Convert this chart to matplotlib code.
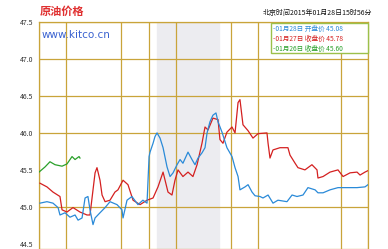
import matplotlib.pyplot as plt

plt.rcParams['font.family'] = ['Noto Sans CJK SC', 'DejaVu Sans']

# Data to plot (x = hours into the session, y = price)
blue_h = [0.07, 0.58, 1.02, 1.39, 1.53, 1.90, 2.26, 2.63, 2.85, 3.14, 3.36, 3.57, 3.72,
          3.94, 4.09, 4.45, 4.82, 5.18, 5.69, 6.05, 6.13, 6.42, 6.78, 7.22, 7.58, 7.88,
          8.03, 8.10, 8.32, 8.46, 8.61, 8.83, 9.05, 9.34, 9.56, 9.78, 10.07, 10.29, 10.50,
          10.87, 11.16, 11.38, 11.60, 11.89, 12.11, 12.26, 12.47, 12.69, 12.91, 13.06,
          13.35, 13.71, 14.08, 14.30, 14.52, 14.66, 15.03, 15.25, 15.54, 15.76, 16.12,
          16.34, 16.71, 17.07, 17.43, 18.09, 18.46, 18.82, 19.26, 19.62, 20.14, 20.35,
          20.72, 21.23, 21.81, 22.47, 23.20, 23.78, 24.00]
blue_v = [45.05, 45.07, 45.05, 44.99, 44.89, 44.92, 44.86, 44.89, 44.82, 44.85, 45.12,
          45.14, 44.96, 44.76, 44.85, 44.92, 44.99, 45.07, 45.03, 44.96, 44.85, 45.09,
          45.14, 45.03, 45.09, 45.05, 45.68, 45.74, 45.86, 45.95, 46.00, 45.93, 45.80,
          45.54, 45.41, 45.46, 45.57, 45.64, 45.59, 45.74, 45.64, 45.57, 45.66, 45.73,
          45.80, 46.00, 46.15, 46.24, 46.27, 46.15, 46.01, 45.80, 45.68, 45.53, 45.41,
          45.23, 45.27, 45.30, 45.20, 45.15, 45.14, 45.12, 45.16, 45.05, 45.09, 45.07,
          45.16, 45.14, 45.16, 45.26, 45.23, 45.19, 45.19, 45.23, 45.26, 45.26, 45.26,
          45.27, 45.30]

red_h = [0.07, 0.58, 1.02, 1.53, 1.68, 2.04, 2.48, 2.99, 3.50, 3.72, 4.09, 4.23, 4.45,
         4.60, 4.82, 5.18, 5.54, 5.76, 6.13, 6.49, 6.86, 7.37, 7.88, 8.32, 8.68, 9.05,
         9.41, 9.70, 9.92, 10.14, 10.50, 10.87, 11.23, 11.53, 11.89, 12.11, 12.33, 12.69,
         13.06, 13.20, 13.42, 13.71, 14.08, 14.30, 14.52, 14.66, 14.88, 15.25, 15.61,
         15.98, 16.63, 16.71, 16.85, 17.07, 17.58, 18.16, 18.31, 18.68, 18.89, 19.40,
         19.91, 20.28, 20.35, 20.72, 21.23, 21.81, 22.18, 22.69, 23.20, 23.42, 23.78, 24.00]
red_v = [45.32, 45.27, 45.20, 45.14, 44.96, 44.93, 44.99, 44.93, 44.89, 44.89, 45.46,
         45.53, 45.36, 45.16, 45.07, 45.09, 45.20, 45.23, 45.36, 45.30, 45.09, 45.03,
         45.09, 45.12, 45.27, 45.47, 45.20, 45.16, 45.36, 45.50, 45.41, 45.47, 45.41,
         45.57, 45.86, 46.08, 46.04, 46.20, 46.18, 45.91, 45.86, 46.01, 46.08, 46.00,
         46.41, 46.45, 46.11, 46.03, 45.93, 45.99, 46.00, 45.86, 45.66, 45.77, 45.80,
         45.80, 45.70, 45.59, 45.53, 45.50, 45.57, 45.50, 45.39, 45.41, 45.47, 45.50,
         45.41, 45.46, 45.47, 45.43, 45.47, 45.49]

green_h = [0.0, 0.44, 0.80, 1.17, 1.68, 2.04, 2.41, 2.63, 2.92, 2.99]
green_v = [45.47, 45.54, 45.61, 45.57, 45.55, 45.58, 45.68, 45.64, 45.68, 45.66]

y_ticks = [44.5, 45.0, 45.5, 46.0, 46.5, 47.0, 47.5]
y_grid = [45.0, 46.0, 46.5, 47.0, 47.5]
x_grid = [0, 2, 6, 8, 10, 14, 16, 22, 24]
shade = (8.61, 13.13)

legend_rows = [('-01月28日 开盘价 45.08', '#2a8ad8'),
               ('-01月27日 收盘价 45.78', '#d42020'),
               ('-01月26日 收盘价 45.60', '#2aa02a')]

gold = '#c9a43a'

# create plot
fig = plt.figure(figsize=(3.88, 2.49), dpi=100)
ax = fig.add_axes([39 / 388, 0, 329 / 388, 227 / 249])
ax.set_xlim(0, 24)
ax.set_ylim(44.43, 47.5)

ax.axvspan(*shade, color='#ececf0', zorder=0)
for x in x_grid:
    ax.axvline(x, color=gold, lw=0.9, zorder=1)
for y in y_grid:
    ax.axhline(y, color=gold, lw=0.9, zorder=1)

ax.plot(green_h, green_v, color='#2aa02a', lw=0.9, zorder=3)
ax.plot(red_h, red_v, color='#d42020', lw=0.9, zorder=3)
ax.plot(blue_h, blue_v, color='#2a8ad8', lw=0.9, zorder=4)

for s in ax.spines.values():
    s.set_color(gold)
    s.set_linewidth(0.9)
ax.set_xticks([])
ax.set_yticks(y_ticks)
ax.set_yticklabels(['%.1f' % v for v in y_ticks], fontsize=5, color='#333333')
ax.tick_params(axis='y', length=0, pad=4)

# texts
fig.text(40 / 388, 1 - 11 / 249, '原油价格', color='#e03030', fontsize=8,
         fontweight='bold', va='center', ha='left')
ax.text(0.2, 47.33, 'www.kitco.cn', color='#3a62d0', fontsize=7.5,
        va='center', ha='left', family='DejaVu Sans')
fig.text(372 / 388, 1 - 13 / 249, '北京时间2015年01月28日15时56分', color='#111111',
         fontsize=5, va='center', ha='right')

# legend box
box = plt.Rectangle((271 / 388, 1 - 53 / 249), 97 / 388, 30 / 249,
                    transform=fig.transFigure, facecolor='white',
                    edgecolor='#9cc04a', lw=1.0, zorder=5)
fig.patches.append(box)
for i, (txt, col) in enumerate(legend_rows):
    fig.text(273 / 388, 1 - (29 + i * 10) / 249, txt, color=col, fontsize=4.8,
             va='center', ha='left', zorder=6)

fig.savefig('out.png', dpi=100)
